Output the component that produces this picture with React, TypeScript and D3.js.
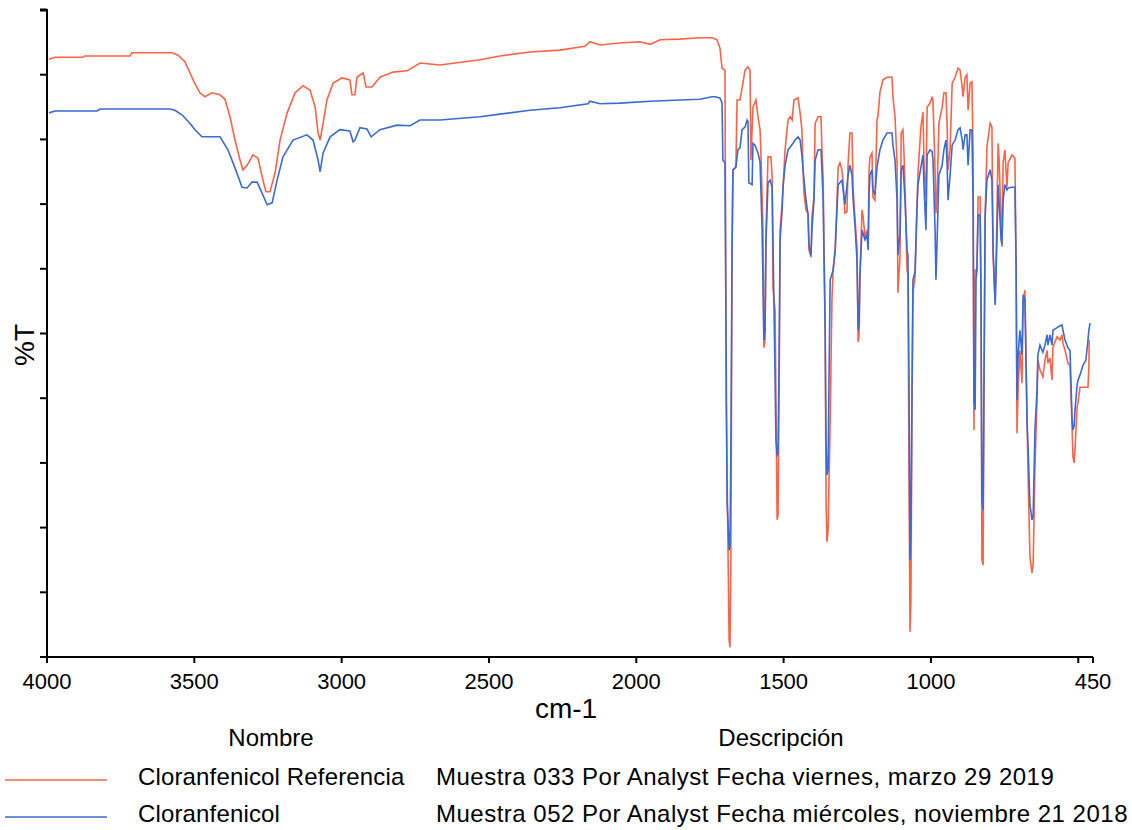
import React from 'react';
import * as d3 from 'd3';

// Cloranfenicol Referencia (red)
const refWavenumber = [
  3993, 3973, 3878, 3871, 3718, 3712, 3576, 3555, 3532, 3515, 3498, 3481, 3464, 3440, 3413, 3396,
  3379, 3362, 3345, 3335, 3321, 3301, 3284, 3267, 3257, 3243, 3226, 3209, 3185, 3158, 3131, 3107,
  3090, 3080, 3073, 3063, 3050, 3029, 2999, 2972, 2965, 2955, 2948, 2927, 2917, 2897, 2870, 2826,
  2778, 2734, 2666, 2530, 2463, 2361, 2259, 2174, 2157, 2123, 2055, 1987, 1953, 1919, 1852, 1784,
  1743, 1726, 1716, 1709, 1699, 1695, 1685, 1682, 1679, 1675, 1672, 1662, 1658, 1648, 1638, 1631,
  1621, 1614, 1611, 1604, 1594, 1587, 1580, 1577, 1570, 1567, 1563, 1560, 1553, 1543, 1539, 1536,
  1529, 1522, 1519, 1515, 1512, 1505, 1502, 1495, 1485, 1478, 1471, 1465, 1451, 1444, 1438, 1434,
  1431, 1424, 1417, 1414, 1407, 1404, 1397, 1393, 1383, 1373, 1370, 1366, 1359, 1356, 1353, 1349,
  1342, 1336, 1332, 1325, 1319, 1315, 1309, 1302, 1298, 1292, 1285, 1281, 1275, 1268, 1264, 1258,
  1251, 1247, 1244, 1241, 1234, 1230, 1224, 1217, 1213, 1210, 1207, 1200, 1197, 1190, 1183, 1180,
  1173, 1163, 1149, 1132, 1129, 1122, 1115, 1112, 1105, 1101, 1095, 1091, 1088, 1081, 1078, 1074,
  1071, 1068, 1064, 1061, 1054, 1047, 1044, 1034, 1027, 1023, 1017, 1013, 1003, 996, 993, 986,
  983, 979, 973, 962, 956, 949, 945, 942, 935, 928, 918, 908, 901, 894, 891, 884,
  878, 874, 867, 861, 857, 854, 850, 844, 840, 833, 830, 827, 823, 820, 816, 810,
  799, 793, 789, 782, 776, 772, 769, 762, 759, 755, 749, 742, 738, 725, 715, 711,
  708, 704, 698, 691, 687, 681, 674, 670, 664, 657, 653, 647, 640, 637, 630, 620,
  613, 606, 603, 596, 589, 586, 572, 562, 555, 552, 545, 535, 528, 521, 518, 514,
  511, 504, 501, 494, 467, 464, 463,
];
const refTransmittance = [
  92.4, 92.7, 92.7, 92.9, 92.9, 93.4, 93.4, 93.0, 92.0, 90.3, 88.6, 87.2, 86.6, 87.2, 86.9, 86.2,
  83.5, 79.9, 76.8, 75.3, 76.0, 77.6, 77.1, 73.7, 71.9, 71.9, 74.8, 79.9, 84.1, 87.2, 88.3, 87.6,
  85.0, 81.0, 79.9, 82.5, 86.1, 88.7, 89.5, 89.2, 86.9, 86.9, 89.6, 90.3, 88.1, 88.1, 89.6, 90.4,
  90.6, 91.8, 91.5, 92.3, 92.9, 93.5, 93.8, 94.4, 95.1, 94.6, 94.9, 95.1, 94.7, 95.4, 95.5, 95.7,
  95.7, 95.4, 94.1, 91.0, 90.7, 40.2, 2.6, 1.5, 15.0, 62.9, 75.3, 75.7, 86.1, 86.1, 88.7, 90.7,
  91.2, 90.7, 76.8, 85.0, 86.1, 83.5, 81.5, 77.9, 66.0, 47.8, 49.0, 65.5, 77.3, 77.3, 74.2, 57.0,
  53.6, 21.2, 21.9, 42.8, 66.0, 70.2, 72.6, 78.4, 83.0, 83.5, 83.0, 86.1, 86.4, 84.1, 81.5, 75.3,
  71.7, 69.1, 68.6, 62.9, 61.8, 68.0, 71.1, 82.5, 83.5, 83.5, 78.4, 74.2, 51.0, 24.3, 17.8, 19.6,
  36.6, 55.2, 59.8, 62.9, 70.2, 75.7, 76.4, 75.3, 73.3, 68.6, 68.8, 76.4, 81.0, 81.0, 72.2, 68.0,
  63.4, 48.7, 49.8, 58.7, 69.1, 68.0, 64.9, 66.0, 64.9, 75.3, 77.3, 77.9, 71.1, 70.6, 83.0, 83.5,
  87.3, 89.2, 89.6, 89.6, 86.6, 83.5, 76.4, 56.3, 61.8, 81.0, 81.5, 77.3, 72.6, 59.8, 59.0, 24.3,
  3.9, 8.8, 39.7, 56.3, 58.7, 70.2, 74.8, 81.9, 84.2, 75.3, 71.1, 85.0, 85.6, 86.6, 85.8, 75.3,
  68.6, 71.7, 82.5, 85.0, 87.2, 87.2, 81.9, 75.3, 78.4, 88.7, 89.6, 91.0, 90.7, 88.1, 86.6, 89.6,
  90.0, 84.5, 88.7, 88.9, 78.4, 35.1, 59.8, 59.8, 71.1, 71.1, 53.6, 15.0, 14.2, 39.7, 68.0, 78.8,
  82.5, 81.9, 61.8, 54.7, 68.0, 79.4, 77.3, 67.1, 63.4, 76.4, 78.4, 72.6, 76.4, 77.6, 77.1, 60.9,
  34.6, 41.7, 47.4, 42.3, 55.2, 56.7, 37.1, 27.4, 15.5, 13.0, 14.5, 29.4, 39.7, 45.9, 44.4, 43.3,
  45.9, 47.4, 45.4, 46.2, 42.8, 47.9, 49.5, 49.0, 49.8, 48.5, 47.4, 45.4, 45.1, 35.5, 30.9, 30.0,
  32.0, 38.6, 39.3, 41.7, 41.7, 44.8, 49.0,
];

// Cloranfenicol (blue)
const sampleWavenumber = [
  3993, 3973, 3830, 3820, 3583, 3566, 3542, 3515, 3498, 3474, 3413, 3386, 3362, 3338, 3321, 3304,
  3287, 3270, 3253, 3236, 3219, 3199, 3165, 3118, 3097, 3080, 3073, 3063, 3039, 3006, 2972, 2961,
  2955, 2938, 2914, 2900, 2870, 2812, 2768, 2734, 2666, 2530, 2463, 2361, 2259, 2164, 2157, 2123,
  2055, 1953, 1852, 1784, 1743, 1733, 1716, 1709, 1706, 1699, 1692, 1689, 1685, 1682, 1679, 1675,
  1672, 1662, 1655, 1648, 1641, 1631, 1624, 1621, 1618, 1607, 1604, 1597, 1587, 1580, 1573, 1567,
  1563, 1560, 1553, 1546, 1539, 1533, 1526, 1522, 1519, 1515, 1512, 1505, 1502, 1495, 1485, 1478,
  1468, 1461, 1451, 1444, 1438, 1434, 1424, 1417, 1414, 1407, 1404, 1397, 1393, 1383, 1373, 1370,
  1366, 1359, 1356, 1353, 1349, 1346, 1342, 1332, 1325, 1319, 1315, 1302, 1298, 1292, 1281, 1275,
  1268, 1264, 1258, 1251, 1247, 1244, 1241, 1234, 1224, 1217, 1213, 1210, 1207, 1200, 1197, 1190,
  1183, 1173, 1163, 1149, 1132, 1129, 1122, 1115, 1112, 1105, 1101, 1095, 1091, 1088, 1081, 1078,
  1074, 1071, 1068, 1064, 1061, 1054, 1047, 1044, 1034, 1027, 1023, 1017, 1013, 1003, 996, 993,
  986, 983, 979, 973, 962, 956, 949, 945, 942, 935, 928, 918, 908, 901, 894, 891,
  884, 878, 874, 867, 861, 857, 854, 850, 847, 844, 840, 833, 830, 827, 823, 820,
  816, 810, 799, 793, 789, 782, 776, 772, 769, 762, 759, 755, 749, 742, 738, 725,
  715, 711, 708, 704, 698, 691, 687, 681, 674, 670, 664, 657, 653, 647, 640, 637,
  630, 620, 613, 606, 603, 596, 589, 586, 572, 562, 555, 552, 545, 535, 528, 521,
  518, 514, 511, 504, 501, 494, 484, 474, 467, 464, 460,
];
const sampleTransmittance = [
  84.1, 84.4, 84.4, 84.7, 84.7, 84.5, 83.8, 82.5, 81.5, 80.4, 80.4, 78.4, 75.6, 72.6, 72.5, 73.4,
  73.4, 71.7, 69.9, 70.2, 73.7, 77.3, 79.9, 80.7, 79.9, 76.8, 75.0, 77.9, 80.4, 81.5, 81.3, 79.6,
  79.9, 81.8, 81.6, 80.4, 81.5, 82.2, 82.1, 83.0, 83.0, 83.5, 83.9, 84.5, 84.9, 85.5, 85.9, 85.5,
  85.6, 85.9, 86.1, 86.2, 86.6, 86.6, 86.4, 85.6, 76.8, 76.4, 24.3, 21.2, 16.5, 17.3, 32.0, 62.9,
  75.3, 75.7, 78.4, 78.7, 81.5, 81.9, 83.0, 82.8, 73.3, 73.0, 79.4, 79.1, 77.9, 76.5, 66.0, 49.0,
  50.5, 64.0, 73.3, 73.7, 72.6, 55.2, 33.5, 31.2, 31.5, 47.4, 64.5, 69.1, 72.6, 76.0, 78.4, 78.8,
  79.4, 79.9, 80.4, 79.9, 77.6, 75.3, 70.6, 68.3, 63.7, 62.1, 66.0, 70.6, 76.8, 78.4, 78.4, 75.3,
  70.6, 50.5, 33.5, 28.1, 28.9, 42.8, 58.3, 59.8, 62.9, 69.1, 73.0, 73.7, 72.2, 69.9, 74.5, 76.0,
  74.5, 70.6, 66.8, 61.4, 50.5, 51.3, 59.0, 66.0, 64.5, 65.2, 62.9, 71.4, 74.5, 75.3, 72.2, 71.4,
  75.7, 78.4, 79.9, 81.0, 81.0, 79.1, 76.8, 70.6, 62.1, 65.5, 75.3, 76.0, 73.0, 70.6, 62.9, 62.1,
  39.7, 15.0, 19.6, 42.8, 58.3, 59.5, 69.9, 73.0, 75.7, 77.6, 72.2, 66.0, 77.6, 78.4, 78.1, 76.8,
  66.0, 58.3, 64.5, 74.5, 76.0, 78.4, 79.9, 76.0, 70.6, 74.5, 79.1, 79.9, 81.5, 81.8, 79.9, 78.4,
  80.7, 80.7, 76.0, 81.5, 81.5, 70.6, 39.7, 38.2, 58.3, 59.8, 68.3, 68.3, 55.2, 24.3, 22.7, 42.8,
  68.3, 73.7, 75.3, 73.7, 62.9, 54.4, 64.5, 73.0, 70.6, 64.5, 63.7, 70.6, 73.0, 72.2, 72.5, 72.6,
  72.6, 60.6, 39.7, 46.7, 50.5, 46.7, 56.0, 55.2, 36.6, 32.0, 23.5, 21.2, 21.9, 35.1, 41.3, 46.7,
  48.2, 47.1, 48.2, 49.8, 48.2, 49.8, 48.2, 50.5, 50.9, 51.2, 51.3, 50.5, 49.0, 47.8, 47.4, 36.6,
  35.1, 35.7, 38.2, 42.0, 42.8, 43.6, 45.1, 45.9, 49.0, 50.5, 51.6,
];

const xTickValues = [4000, 3500, 3000, 2500, 2000, 1500, 1000, 500, 450];
const xLabelValues = [4000, 3500, 3000, 2500, 2000, 1500, 1000, 450];
const yTickValues = [0, 10, 20, 30, 40, 50, 60, 70, 80, 90, 100];

const seriesNames = ['Cloranfenicol Referencia', 'Cloranfenicol'];
const seriesDescriptions = [
  'Muestra 033 Por Analyst Fecha viernes, marzo 29 2019',
  'Muestra 052 Por Analyst Fecha miércoles, noviembre 21 2018',
];
const seriesColors = ['#ff6347', '#3a6bd3'];

const width = 1132;
const height = 830;
const margin = { top: 10, right: 39, bottom: 173, left: 47 };
const font = '"Liberation Sans", Arial, sans-serif';

export default function App() {
  const x = d3.scaleLinear().domain([4000, 450]).range([margin.left, width - margin.right]);
  const y = d3.scaleLinear().domain([0, 100]).range([height - margin.bottom, margin.top]);

  const line = d3
    .line<[number, number]>()
    .x((d) => x(d[0]))
    .y((d) => y(d[1]));

  const series = [
    d3.zip(refWavenumber, refTransmittance) as [number, number][],
    d3.zip(sampleWavenumber, sampleTransmittance) as [number, number][],
  ];

  const x0 = margin.left;
  const x1 = width - margin.right;
  const yBottom = height - margin.bottom;

  return (
    <div style={{ position: 'absolute', left: 0, top: 0 }}>
      <svg width={width} height={height} style={{ display: 'block', background: '#fff' }} fontFamily={font}>
        {/* curves */}
        {series.map((s, i) => (
          <path key={i} d={line(s) || ''} fill="none" stroke={seriesColors[i]} strokeWidth={1.6} strokeLinejoin="miter" />
        ))}

        {/* y axis */}
        <line x1={x0} x2={x0} y1={margin.top - 1} y2={yBottom} stroke="#000" strokeWidth={2} />
        {yTickValues.map((t) => (
          <line key={t} x1={x0 - 7} x2={x0} y1={y(t)} y2={y(t)} stroke="#000" strokeWidth={t === 100 ? 3 : 2} />
        ))}

        {/* x axis */}
        <line x1={x0 - 7} x2={x1} y1={yBottom} y2={yBottom} stroke="#000" strokeWidth={2} />
        {xTickValues.map((t) => (
          <line key={t} x1={x(t)} x2={x(t)} y1={yBottom} y2={yBottom + 6} stroke="#000" strokeWidth={2} />
        ))}
        {xLabelValues.map((t) => (
          <text key={t} x={x(t)} y={yBottom + 32} textAnchor="middle" fontSize={22} fill="#000">
            {t}
          </text>
        ))}

        <text x={566} y={718} textAnchor="middle" fontSize={28} fill="#000">
          cm-1
        </text>
        <text transform={`translate(34,${345}) rotate(-90)`} textAnchor="middle" fontSize={28} fill="#000">
          %T
        </text>

        {/* legend */}
        <text x={271} y={746} textAnchor="middle" fontSize={24} fill="#000">
          Nombre
        </text>
        <text x={781} y={746} textAnchor="middle" fontSize={24} fill="#000">
          Descripción
        </text>
        {seriesNames.map((name, i) => {
          const rowY = 785 + i * 37;
          return (
            <g key={name}>
              <line x1={5} x2={107} y1={rowY - 5} y2={rowY - 5} stroke={seriesColors[i]} strokeWidth={1.5} />
              <text x={138} y={rowY} fontSize={24} fill="#000" letterSpacing={0.15}>
                {name}
              </text>
              <text x={436} y={rowY} fontSize={24} fill="#000" letterSpacing={0.5}>
                {seriesDescriptions[i]}
              </text>
            </g>
          );
        })}
      </svg>
    </div>
  );
}
